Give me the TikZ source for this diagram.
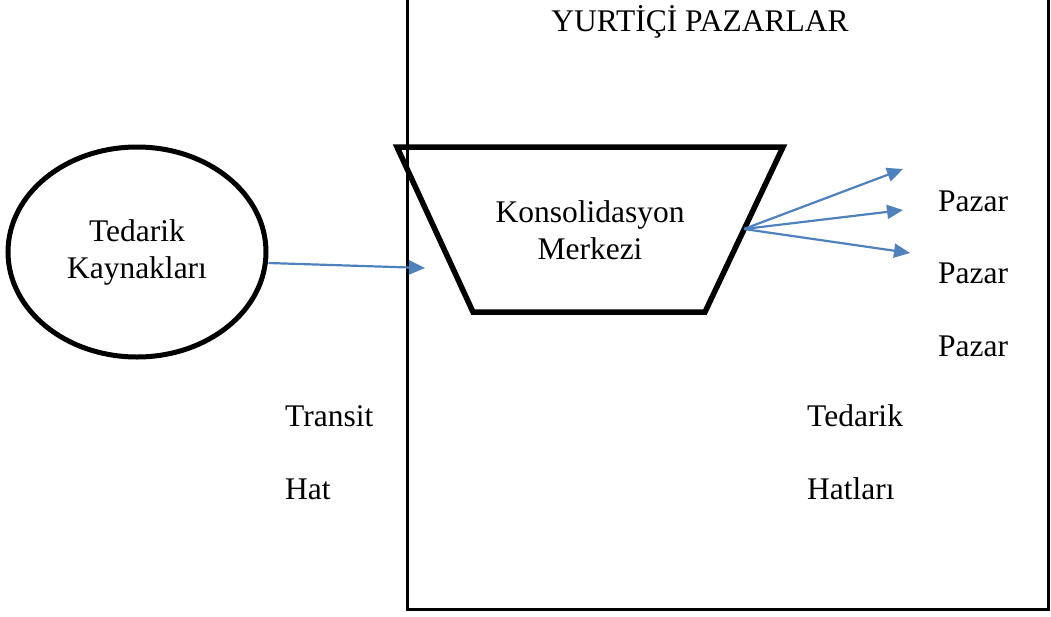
\documentclass[tikz,border=0pt]{standalone}
\usepackage{fontspec}
\setmainfont{Liberation Serif}
\usetikzlibrary{shapes.geometric,arrows.meta}

\definecolor{okmavi}{RGB}{79,129,189}

\tikzset{
  yazi/.style={font=\fontsize{31.5}{37}\selectfont, inner sep=0pt},
  okcizgi/.style={okmavi, line width=2.2pt, -{Triangle[length=16pt,width=14pt]}},
}

\begin{document}
\begin{tikzpicture}[x=1pt, y=-1pt]
 \useasboundingbox (0,0) rectangle (1051,616);

 % pazar kutusu (ust kenar sayfanin disinda)
 \draw[line width=3pt] (407,-5) -- (407,609) -- (1048,609) -- (1048,-5);
 \node[yazi] (baslik) at (700,22) {YURTİÇİ PAZARLAR};

 % tedarik kaynaklari
 \node[draw, ellipse, line width=5pt, minimum width=258pt, minimum height=210pt,
       yazi, align=center] (kaynak) at (137,252) {Tedarik\\Kaynakları};

 % konsolidasyon merkezi
 \draw[line width=5.5pt, line join=miter] (397,147) -- (783,147) -- (705,312) -- (473,312) -- cycle;
 \node[yazi, align=center] (merkez) at (590,230) {Konsolidasyon\\Merkezi};

 \coordinate (giris) at (425,268);
 \coordinate (cikis) at (744,229);
 \coordinate (p1) at (903,169);
 \coordinate (p2) at (903,210);
 \coordinate (p3) at (910,253);

 \draw[okcizgi] (kaynak.east) ++(0,11) -- (giris);
 \draw[okcizgi] (cikis) -- (p1);
 \draw[okcizgi] (cikis) -- (p2);
 \draw[okcizgi] (cikis) -- (p3);

 % pazarlar
 \node[yazi, anchor=west] (pazar1) at (938,201) {Pazar};
 \node[yazi, anchor=west] (pazar2) at (938,273) {Pazar};
 \node[yazi, anchor=west] (pazar3) at (938,346) {Pazar};

 % hat etiketleri
 \node[yazi, anchor=west] (transit) at (285,416) {Transit};
 \node[yazi, anchor=west] (hat) at (285,489) {Hat};
 \node[yazi, anchor=west] (tedarik) at (807,416) {Tedarik};
 \node[yazi, anchor=west] (hatlari) at (807,489) {Hatları};
\end{tikzpicture}
\end{document}
